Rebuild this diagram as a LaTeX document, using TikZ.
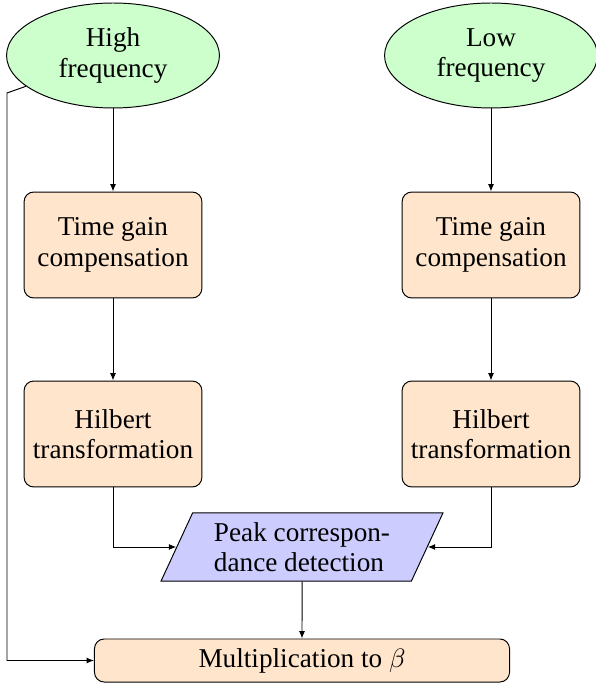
\documentclass[tikz,border=0pt]{standalone}
\usepackage{fontspec}
\setmainfont{Liberation Serif}
\usetikzlibrary{shapes.geometric,arrows.meta}
\begin{document}
\begin{tikzpicture}[x=0.4115pt,y=-0.4115pt,
  font=\fontsize{11.2}{12.6}\selectfont,
  every path/.style={line width=0.4pt},
  src/.style={ellipse,draw,fill=green!20,align=center,minimum width=87.6pt,minimum height=43.2pt,inner sep=0pt},
  proc/.style={rectangle,rounded corners=4pt,draw,fill=orange!20,align=center,minimum width=73.2pt,minimum height=43.6pt,inner sep=1pt},
  io/.style={trapezium,trapezium left angle=60,trapezium right angle=120,trapezium stretches body,draw,fill=blue!20,align=left,minimum width=116pt,minimum height=28pt,inner sep=1pt},
  wide/.style={rectangle,rounded corners=4pt,draw,fill=orange!20,minimum width=170.8pt,minimum height=17.7pt,inner sep=1pt},
  arr/.style={-{Latex[length=3pt,width=2.4pt]}}]
\useasboundingbox (0,0) rectangle (595,686);
\node[src] (hf) at (113,55.5) {High\\frequency};
\node[src] (lf) at (491,55.5) {Low\\frequency};
\node[proc] (tg1) at (113,245) {Time gain\\compensation};
\node[proc] (tg2) at (491,245) {Time gain\\compensation};
\node[proc] (hb1) at (113,434) {Hilbert\\transformation};
\node[proc] (hb2) at (491,434) {Hilbert\\transformation};
\node[io] (pk) at (302,547) {Peak correspon-\\dance detection};
\node[wide] (mu) at (302,660.5) {Multiplication to $\beta$};
\coordinate (c1) at (7,93);
\draw[arr] (hf) -- (tg1);
\draw[arr] (lf) -- (tg2);
\draw[arr] (tg1) -- (hb1);
\draw[arr] (tg2) -- (hb2);
\draw[arr] (hb1.south) |- (pk.west);
\draw[arr] (hb2.south) |- (pk.east);
\draw[arr] (pk) -- (mu);
\draw[arr] (hf) -- (c1) |- (mu.west);
\end{tikzpicture}
\end{document}
